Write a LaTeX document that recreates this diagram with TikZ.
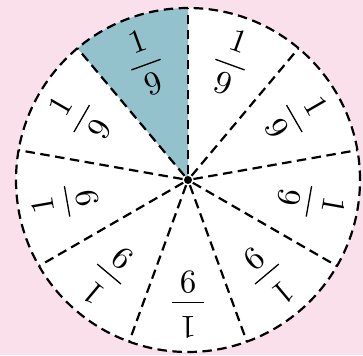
\documentclass[tikz,border=0pt]{standalone}
\usepackage{amsmath}
\usetikzlibrary{calc}

\definecolor{bgpink}{RGB}{250,224,235}
\definecolor{pieteal}{RGB}{148,194,204}
\newcommand{\ninth}{$\dfrac{\hspace{2.2pt}1\hspace{2.2pt}}{\hspace{2.2pt}9\hspace{2.2pt}}$}

\begin{document}
\begin{tikzpicture}[x=1pt, y=1pt]
  \fill[bgpink] (0, 0) rectangle (363, 355);
  \useasboundingbox (0, 0) rectangle (363, 355);

  \coordinate (O) at (188, 175);

  \fill[white] (O) circle[radius=172];
  \fill[pieteal] (O) -- ++(90:172)
    arc[start angle=90, end angle=130, radius=172] -- cycle;

  \foreach \a in {10, 50, ..., 330} {
    \coordinate (P\a) at ($(O) + (\a:172)$);
    \draw[line width=2.2pt, dash pattern=on 9.5pt off 5.5pt, dash phase=9.5pt]
      (O) -- (P\a);
  }
  \draw[line width=2.2pt, dash pattern=on 9.5pt off 5.5pt] (O) circle[radius=172];
  \fill (O) circle[radius=4];

  \foreach \a in {30, 70, ..., 350}
    \node[scale=3.3, rotate=\a-90] (f\a) at ($(O) + (\a:125)$) {\ninth};
\end{tikzpicture}
\end{document}
